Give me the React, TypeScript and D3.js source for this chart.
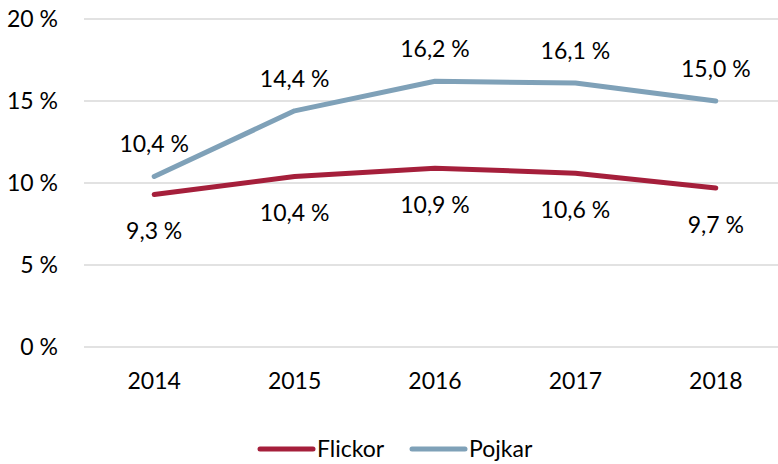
import React from "react";
import * as d3 from "d3";

const years = ["2014", "2015", "2016", "2017", "2018"];
const flickor = [9.3, 10.4, 10.9, 10.6, 9.7];
const pojkar = [10.4, 14.4, 16.2, 16.1, 15.0];
const yTicks = [0, 5, 10, 15, 20];

const series = [
  { name: "Flickor", values: flickor, color: "#A51F3B", below: true },
  { name: "Pojkar", values: pojkar, color: "#7FA1B8", below: false },
];

const W = 778;
const H = 464;
const FONT = "Lato, 'Open Sans', sans-serif";

const fmt = (v: number) => `${v.toFixed(1).replace(".", ",")} %`;

const App: React.FC = () => {
  const x = d3.scaleBand<string>().domain(years).range([84, 786]);
  const y = d3.scaleLinear().domain([0, 20]).range([347, 19]);
  const cx = (d: string) => (x(d) ?? 0) + x.bandwidth() / 2;

  const line = d3
    .line<number>()
    .x((_, i) => cx(years[i]))
    .y((v) => y(v));

  return (
    <svg width={W} height={H} style={{ display: "block", position: "absolute", left: 0, top: 0 }} fontFamily={FONT}>
      <rect width={W} height={H} fill="#fff" />
      {yTicks.map((t) => (
        <g key={t}>
          <line x1={84} x2={778} y1={y(t)} y2={y(t)} stroke="#d9d9d9" strokeWidth={1.5} />
          <text x={58} y={y(t)} dy="0.36em" textAnchor="end" fontSize={23} fill="#000">
            {t} %
          </text>
        </g>
      ))}
      {years.map((yr) => (
        <text key={yr} x={cx(yr)} y={389} textAnchor="middle" fontSize={23} fill="#000">
          {yr}
        </text>
      ))}
      {series.map((s) => (
        <g key={s.name}>
          <path d={line(s.values) ?? ""} fill="none" stroke={s.color} strokeWidth={5} strokeLinecap="round" strokeLinejoin="round" />
          {s.values.map((v, i) => (
            <text
              key={i}
              x={cx(years[i])}
              y={y(v) + (s.below ? 45 : -24)}
              textAnchor="middle"
              fontSize={23}
              fill="#000"
            >
              {fmt(v)}
            </text>
          ))}
        </g>
      ))}
      {series.map((s, i) => {
        const lx = 260 + i * 152;
        return (
          <g key={s.name}>
            <line x1={lx} x2={lx + 53} y1={449} y2={449} stroke={s.color} strokeWidth={5} strokeLinecap="round" />
            <text x={lx + 57} y={457} fontSize={23} fill="#000">
              {s.name}
            </text>
          </g>
        );
      })}
    </svg>
  );
};

export default App;
